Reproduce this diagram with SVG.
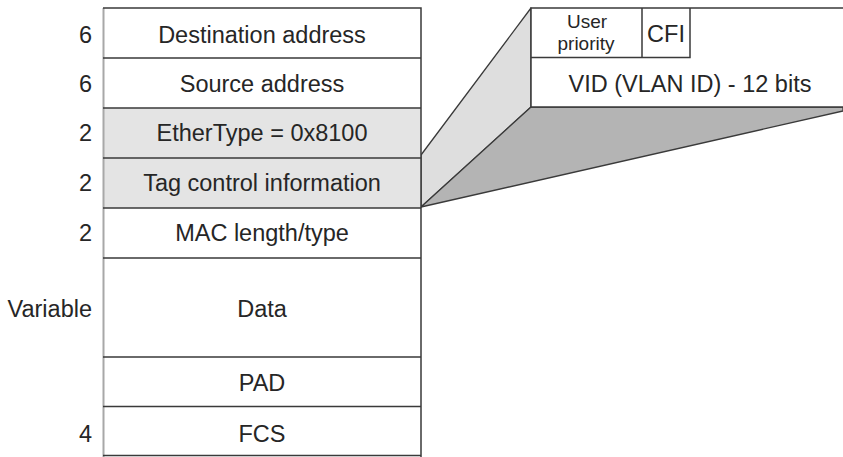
<svg xmlns="http://www.w3.org/2000/svg" width="843" height="457" viewBox="0 0 843 457">
<style>
text{font-family:"Liberation Sans",Arial,sans-serif;fill:#262626;}
.f{font-size:23.5px;text-anchor:middle;}
.l{font-size:23.5px;text-anchor:end;}
.s{font-size:19px;text-anchor:middle;}
.ln{stroke:#3a3a3a;stroke-width:1.5;fill:none;}
.cell{fill:#fff;}
.sh{fill:#e4e4e4;}
</style>
<rect width="843" height="457" fill="#fff"/>
<g id="expansion">
<polygon points="421,155 531,8 531,107 421,207" fill="#dedede" stroke="#3a3a3a" stroke-width="1.3" stroke-linejoin="round"/>
<polygon points="421,207 531,107 843,107 843,111" fill="#b4b4b4" stroke="#3a3a3a" stroke-width="1.3" stroke-linejoin="round"/>
</g>
<g id="tag-detail">
<rect x="531" y="8" width="313" height="99" class="cell"/>
<path class="ln" d="M531,107 V8 H843 M531,107 H843"/>
<path class="ln" d="M531,57.5 H690 V8 M642,8 V57.5"/>
<text class="s" x="587" y="28">User</text>
<text class="s" x="586" y="50">priority</text>
<text class="f" x="666" y="42">CFI</text>
<text class="f" x="690" y="92">VID (VLAN ID) - 12 bits</text>
</g>
<g id="frame">
<rect x="103" y="8" width="318" height="448" class="cell"/>
<rect x="103" y="108" width="318" height="100" class="sh"/>
<line x1="103.5" y1="8" x2="103.5" y2="457" stroke="#a8a8a8" stroke-width="2"/>
<path class="ln" d="M103,8 H421 V457"/>
<path class="ln" d="M103,58 H421 M103,108 H421 M103,158 H421 M103,208 H421 M103,258 H421 M103,357 H421 M103,406.5 H421 M103,455.5 H421"/>
</g>
<g id="labels">
<text class="l" x="92" y="43">6</text>
<text class="l" x="92" y="92">6</text>
<text class="l" x="92" y="141">2</text>
<text class="l" x="92" y="191">2</text>
<text class="l" x="92" y="241">2</text>
<text class="l" x="92" y="316.5">Variable</text>
<text class="l" x="92" y="442">4</text>
</g>
<g id="fields">
<text class="f" x="262" y="43">Destination address</text>
<text class="f" x="262" y="92">Source address</text>
<text class="f" x="262" y="141">EtherType = 0x8100</text>
<text class="f" x="262" y="191">Tag control information</text>
<text class="f" x="262" y="241">MAC length/type</text>
<text class="f" x="262" y="316.5">Data</text>
<text class="f" x="262" y="391">PAD</text>
<text class="f" x="262" y="442">FCS</text>
</g>
<g id="connectors"></g>
</svg>
